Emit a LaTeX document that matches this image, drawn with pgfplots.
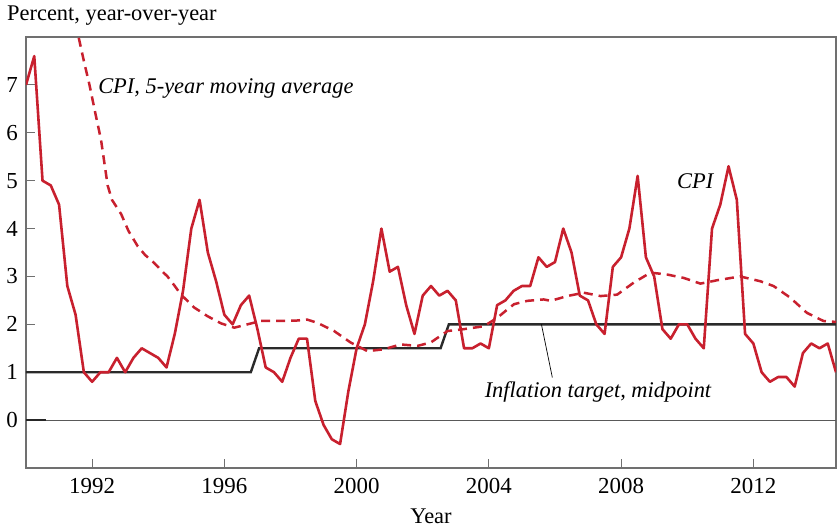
\documentclass[border=0pt]{standalone}
\usepackage{pgfplots}
\pgfplotsset{compat=1.18}
\usepackage{fontspec}
\setmainfont{Liberation Serif}
\definecolor{cpired}{HTML}{C8202E}
\definecolor{framegray}{HTML}{707070}
\definecolor{target}{HTML}{2A2A2A}

\begin{document}
\begin{tikzpicture}
\begin{axis}[
    name=ax,
    scale only axis,
    width=810bp, height=431bp,
    xmin=1990, xmax=2014.5,
    ymin=-1, ymax=8,
    axis line style={framegray, line width=1.4bp},
    xtick={1992,1996,2000,2004,2008,2012},
    ytick={0,1,2,3,4,5,6,7},
    tick align=inside,
    xtick pos=bottom, ytick pos=left,
    major tick length=9bp,
    tick style={framegray, line width=1bp},
    /pgf/number format/assume math mode=true,
    /pgf/number format/1000 sep={},
    tick label style={font=\fontsize{23}{27}\selectfont},
    xticklabel style={anchor=base, inner sep=0pt, yshift=-25bp},
    yticklabel style={anchor=east, inner sep=0pt, xshift=-8bp},
    clip mode=individual,
  ]

  % zero line
  \addplot[gray!70!black, line width=1.1bp] coordinates {(1990,0) (2014.5,0)};
  \addplot[black!85, line width=1.3bp] coordinates {(1990,0) (1990.6,0)};

  % inflation target, midpoint
  \addplot[target, line width=2.4bp] coordinates {
    (1990,1) (1996.8,1) (1997.05,1.5) (2002.54,1.5) (2002.79,2) (2014.5,2)
  };

  % CPI, 5-year moving average
  \addplot[cpired, line width=2.5bp, dash pattern=on 9bp off 6bp] coordinates {
    (1991.45,8.6) (1991.59,8.0) (1991.75,7.5) (1991.92,7.0) (1992.1,6.4)
    (1992.27,5.85) (1992.47,4.9) (1992.6,4.6) (1992.88,4.3) (1993.1,3.95)
    (1993.38,3.63) (1993.6,3.45) (1993.88,3.28) (1994.1,3.12) (1994.28,3.0)
    (1994.5,2.8) (1994.69,2.62) (1995.09,2.35) (1995.49,2.17) (1995.9,2.02)
    (1996.3,1.93) (1996.7,2.0) (1997.1,2.07) (1997.7,2.07) (1998.2,2.08)
    (1998.5,2.1) (1998.82,2.03) (1999.32,1.86) (1999.82,1.62) (2000.33,1.44)
    (2000.83,1.48) (2001.33,1.58) (2001.84,1.55) (2002.24,1.62) (2002.75,1.86)
    (2003.25,1.9) (2003.85,1.96) (2004.26,2.14) (2004.56,2.31) (2004.76,2.42)
    (2005.16,2.49) (2005.66,2.52) (2005.87,2.49) (2006.37,2.59) (2006.87,2.66)
    (2007.38,2.59) (2007.88,2.62) (2008.38,2.87) (2008.89,3.08) (2009.39,3.04)
    (2009.89,2.97) (2010.4,2.85) (2010.9,2.92) (2011.6,3.0) (2012.21,2.9)
    (2012.61,2.8) (2013.11,2.56) (2013.62,2.24) (2014.12,2.07) (2014.5,2.05)
  };

  % CPI, quarterly
  \addplot[cpired, line width=2.6bp, line join=round] coordinates {
    (1990.00,7.0) (1990.25,7.6) (1990.50,5.0) (1990.75,4.9)
    (1991.00,4.5) (1991.25,2.8) (1991.50,2.2) (1991.75,1.0)
    (1992.00,0.8) (1992.25,1.0) (1992.50,1.0) (1992.75,1.3)
    (1993.00,1.0) (1993.25,1.3) (1993.50,1.5) (1993.75,1.4)
    (1994.00,1.3) (1994.25,1.1) (1994.50,1.8) (1994.75,2.7)
    (1995.00,4.0) (1995.25,4.6) (1995.50,3.5) (1995.75,2.9)
    (1996.00,2.2) (1996.25,2.0) (1996.50,2.4) (1996.75,2.6)
    (1997.00,1.9) (1997.25,1.1) (1997.50,1.0) (1997.75,0.8)
    (1998.00,1.3) (1998.25,1.7) (1998.50,1.7) (1998.75,0.4)
    (1999.00,-0.1) (1999.25,-0.4) (1999.50,-0.5) (1999.75,0.6)
    (2000.00,1.5) (2000.25,2.0) (2000.50,2.9) (2000.75,4.0)
    (2001.00,3.1) (2001.25,3.2) (2001.50,2.4) (2001.75,1.8)
    (2002.00,2.6) (2002.25,2.8) (2002.50,2.6) (2002.75,2.7)
    (2003.00,2.5) (2003.25,1.5) (2003.50,1.5) (2003.75,1.6)
    (2004.00,1.5) (2004.25,2.4) (2004.50,2.5) (2004.75,2.7)
    (2005.00,2.8) (2005.25,2.8) (2005.50,3.4) (2005.75,3.2)
    (2006.00,3.3) (2006.25,4.0) (2006.50,3.5) (2006.75,2.6)
    (2007.00,2.5) (2007.25,2.0) (2007.50,1.8) (2007.75,3.2)
    (2008.00,3.4) (2008.25,4.0) (2008.50,5.1) (2008.75,3.4)
    (2009.00,3.0) (2009.25,1.9) (2009.50,1.7) (2009.75,2.0)
    (2010.00,2.0) (2010.25,1.7) (2010.50,1.5) (2010.75,4.0)
    (2011.00,4.5) (2011.25,5.3) (2011.50,4.6) (2011.75,1.8)
    (2012.00,1.6) (2012.25,1.0) (2012.50,0.8) (2012.75,0.9)
    (2013.00,0.9) (2013.25,0.7) (2013.50,1.4) (2013.75,1.6)
    (2014.00,1.5) (2014.25,1.6) (2014.50,1.0)
  };

  % labels
  \node[anchor=base west, inner sep=0pt, font=\fontsize{22.5}{26}\selectfont\itshape]
    at (axis cs:1992.18,6.83) {CPI, 5-year moving average};
  \node[anchor=base west, inner sep=0pt, font=\fontsize{22.5}{26}\selectfont\itshape]
    at (axis cs:2009.69,4.83) {CPI};
  \node[anchor=base west, inner sep=0pt, font=\fontsize{22.5}{26}\selectfont\itshape]
    at (axis cs:2003.87,0.48) {Inflation target, midpoint};
  \draw[black, line width=0.7bp] (axis cs:2005.59,2.0) -- (axis cs:2005.92,0.89);
\end{axis}

\node[anchor=base west, inner sep=0pt, font=\fontsize{22.5}{26}\selectfont]
  at ([xshift=-19bp, yshift=16bp]ax.north west) {Percent, year-over-year};
\node[anchor=base, inner sep=0pt, font=\fontsize{22.5}{26}\selectfont]
  at ([yshift=-55bp]ax.south) {Year};

\pgfresetboundingbox
\path[use as bounding box] ([xshift=-26bp, yshift=-63bp]ax.south west)
  rectangle ([xshift=1bp, yshift=37bp]ax.north east);
\end{tikzpicture}
\end{document}
